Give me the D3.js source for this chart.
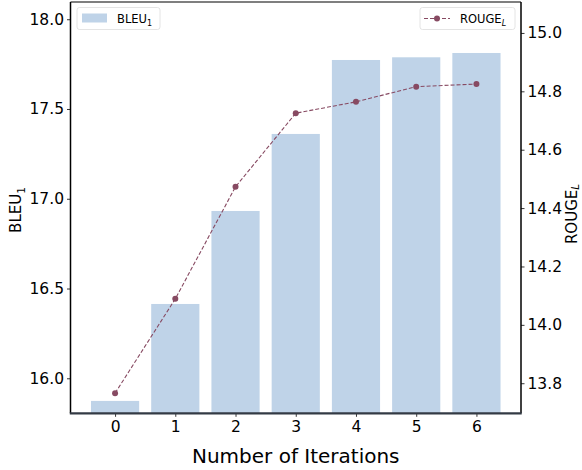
<!DOCTYPE html>
<html><head><meta charset="utf-8">
<script src="https://cdn.jsdelivr.net/npm/d3@7"></script>
<style>body{margin:0;background:#fff}svg{display:block;font-family:"DejaVu Sans",sans-serif}</style>
</head><body>
<script>
const iterations = [0, 1, 2, 3, 4, 5, 6];
const bleu = [15.874, 16.414, 16.932, 17.361, 17.773, 17.788, 17.812];
const rouge = [13.766, 14.089, 14.473, 14.725, 14.764, 14.816, 14.825];
const leftTicks = [16.0, 16.5, 17.0, 17.5, 18.0];
const rightTicks = [13.8, 14.0, 14.2, 14.4, 14.6, 14.8, 15.0];

const W = 582, H = 470;
const L = 70.5, R = 521, T = 2, B = 413.3;
const barColor = "#bfd3e8", lineColor = "#874a62";

const svg = d3.select("body").append("svg").attr("width", W).attr("height", H);

const x = d3.scaleLinear().domain([-0.74, 6.74]).range([L, R]);
const yL = d3.scaleLinear().domain([15.805, 18.096]).range([B, T]);
const yR = d3.scaleLinear().domain([13.697, 15.106]).range([B, T]);

// bars
svg.append("g").selectAll("rect").data(iterations).join("rect")
  .attr("x", d => x(d - 0.4)).attr("width", d => x(d + 0.4) - x(d - 0.4))
  .attr("y", (d, i) => yL(bleu[i])).attr("height", (d, i) => B - yL(bleu[i]))
  .attr("fill", barColor);

// line
const line = d3.line().x((d, i) => x(iterations[i])).y(d => yR(d));
svg.append("path").datum(rouge).attr("d", line).attr("fill", "none")
  .attr("stroke", lineColor).attr("stroke-width", 1.1).attr("stroke-dasharray", "4,2");
svg.append("g").selectAll("circle").data(rouge).join("circle")
  .attr("cx", (d, i) => x(iterations[i])).attr("cy", d => yR(d)).attr("r", 3)
  .attr("fill", lineColor);

// axes
const fmt = d3.format(".1f");
const ax = svg.append("g").attr("transform", `translate(0,${B})`)
  .call(d3.axisBottom(x).tickValues(iterations).tickSize(3.5).tickPadding(4).tickFormat(d3.format("d")));
const ayl = svg.append("g").attr("transform", `translate(${L},0)`)
  .call(d3.axisLeft(yL).tickValues(leftTicks).tickSize(3.5).tickPadding(3).tickFormat(fmt));
const ayr = svg.append("g").attr("transform", `translate(${R},0)`)
  .call(d3.axisRight(yR).tickValues(rightTicks).tickSize(3.5).tickPadding(3).tickFormat(fmt));
[ax, ayl, ayr].forEach(g => {
  g.select(".domain").remove();
  g.selectAll("text").attr("font-size", 15.5).attr("fill", "#000").attr("font-family", "DejaVu Sans");
  g.selectAll("line").attr("stroke", "#000").attr("stroke-width", 0.8);
});

// spines
svg.append("line").attr("x1", L).attr("x2", R).attr("y1", T).attr("y2", T).attr("stroke", "#000").attr("stroke-width", 1.2);
svg.append("line").attr("x1", L).attr("x2", L).attr("y1", T).attr("y2", B).attr("stroke", "#000").attr("stroke-width", 1.5);
svg.append("line").attr("x1", R).attr("x2", R).attr("y1", T).attr("y2", B).attr("stroke", "#000").attr("stroke-width", 1.5);
svg.append("line").attr("x1", L - 0.7).attr("x2", R + 0.7).attr("y1", B).attr("y2", B).attr("stroke", "#333a44").attr("stroke-width", 2.2);

// axis labels
svg.append("text").attr("x", (L + R) / 2).attr("y", 463).attr("text-anchor", "middle")
  .attr("font-size", 20).text("Number of Iterations");
const yl = svg.append("text").attr("transform", `translate(21,210) rotate(-90)`)
  .attr("text-anchor", "middle").attr("font-size", 15);
yl.append("tspan").text("BLEU");
yl.append("tspan").attr("font-size", 10.5).attr("dy", 4).text("1");
const yr = svg.append("text").attr("transform", `translate(577,214) rotate(-90)`)
  .attr("text-anchor", "middle").attr("font-size", 15);
yr.append("tspan").text("ROUGE");
yr.append("tspan").attr("font-size", 10.5).attr("dy", 2).attr("font-style", "italic").text("L");

// legends
const lg1 = svg.append("g");
lg1.append("rect").attr("x", 77).attr("y", 7.5).attr("width", 83).attr("height", 22).attr("rx", 2.5)
  .attr("fill", "#fff").attr("fill-opacity", 0.8).attr("stroke", "#ddd").attr("stroke-width", 0.8);
lg1.append("rect").attr("x", 82).attr("y", 13.5).attr("width", 25).attr("height", 9).attr("fill", barColor);
const t1 = lg1.append("text").attr("x", 117).attr("y", 23).attr("font-size", 11.5);
t1.append("tspan").text("BLEU");
t1.append("tspan").attr("font-size", 8).attr("dy", 2.5).text("1");

const lg2 = svg.append("g");
lg2.append("rect").attr("x", 420).attr("y", 7.5).attr("width", 95).attr("height", 22).attr("rx", 2.5)
  .attr("fill", "#fff").attr("fill-opacity", 0.8).attr("stroke", "#ddd").attr("stroke-width", 0.8);
lg2.append("line").attr("x1", 424).attr("x2", 450).attr("y1", 18.5).attr("y2", 18.5)
  .attr("stroke", lineColor).attr("stroke-width", 1.1).attr("stroke-dasharray", "4,2");
lg2.append("circle").attr("cx", 437).attr("cy", 18.5).attr("r", 3).attr("fill", lineColor);
const t2 = lg2.append("text").attr("x", 460).attr("y", 23).attr("font-size", 11.5);
t2.append("tspan").text("ROUGE");
t2.append("tspan").attr("font-size", 8).attr("dy", 2.5).attr("font-style", "italic").text("L");
</script>
</body></html>
